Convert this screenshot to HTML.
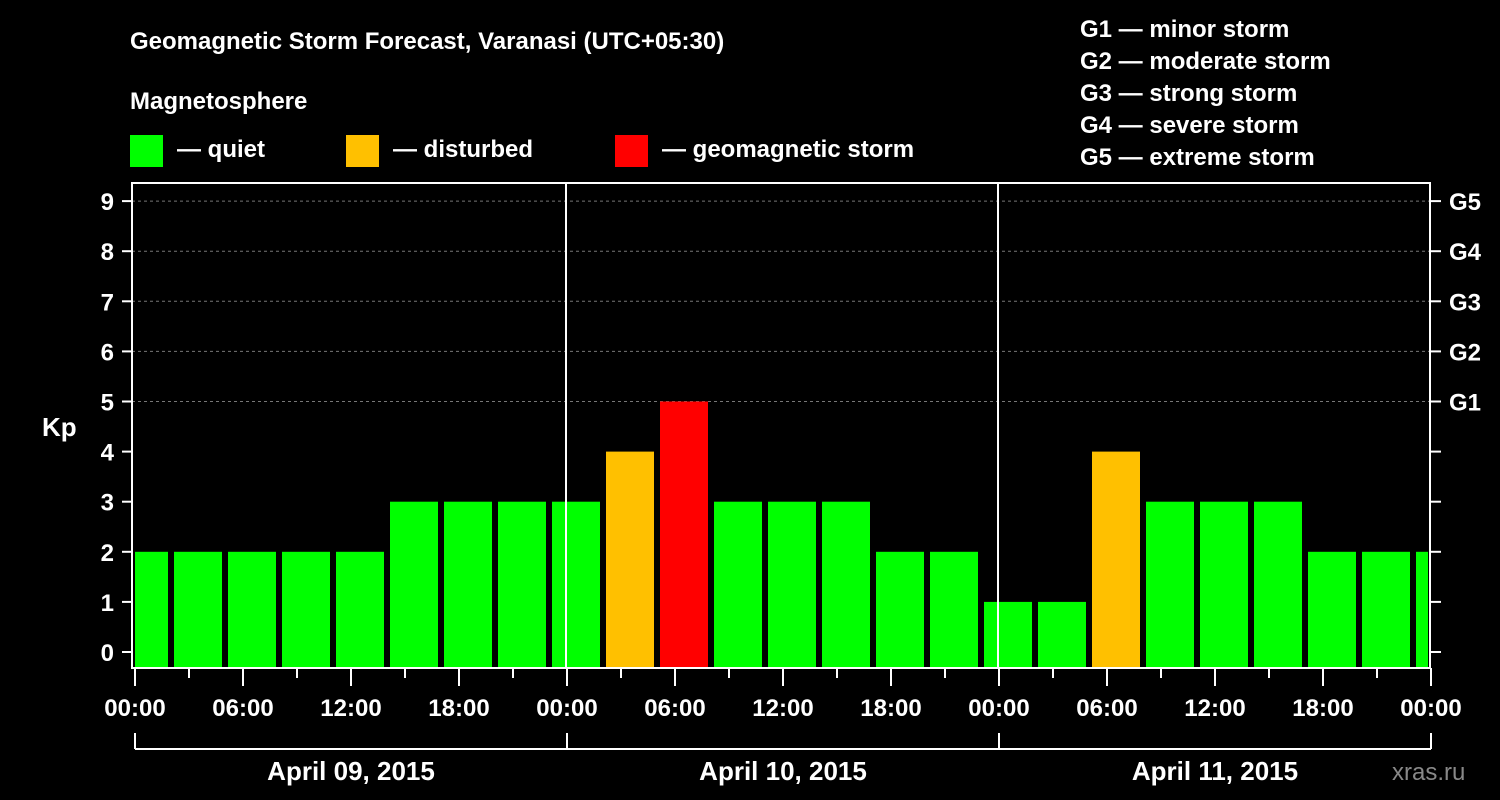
<!DOCTYPE html>
<html><head><meta charset="utf-8"><style>
html,body{margin:0;padding:0;background:#000;}
svg{display:block;font-family:"Liberation Sans",Arial,sans-serif;font-weight:bold;}
</style></head><body>
<svg id="chart" width="1500" height="800" viewBox="0 0 1500 800">
<rect width="1500" height="800" fill="#000"/>
<text x="130" y="49" fill="#fff" font-size="24">Geomagnetic Storm Forecast, Varanasi (UTC+05:30)</text>
<text x="130" y="109" fill="#fff" font-size="24">Magnetosphere</text>
<g><rect x="130" y="135" width="33" height="32" fill="#00ff00"/><text x="177" y="157" fill="#fff" font-size="24">— quiet</text></g>
<g><rect x="346" y="135" width="33" height="32" fill="#ffc000"/><text x="393" y="157" fill="#fff" font-size="24">— disturbed</text></g>
<g><rect x="615" y="135" width="33" height="32" fill="#ff0000"/><text x="662" y="157" fill="#fff" font-size="24">— geomagnetic storm</text></g>
<g fill="#fff" font-size="24">
<text x="1080" y="37">G1 — minor storm</text>
<text x="1080" y="69">G2 — moderate storm</text>
<text x="1080" y="101">G3 — strong storm</text>
<text x="1080" y="133">G4 — severe storm</text>
<text x="1080" y="165">G5 — extreme storm</text>
</g>
<text x="42" y="436" fill="#fff" font-size="26">Kp</text>
<text x="1392" y="780" fill="#888" font-size="24" font-weight="normal">xras.ru</text>
<g id="plot"></g>
</svg>
<script>
const kpValues = [2,2,2,2,2,3,3,3,3,4,5,3,3,3,2,2,1,1,4,3,3,3,2,2,2];
const yTicks = [0,1,2,3,4,5,6,7,8,9];
const gLabels = ["G1","G2","G3","G4","G5"];
const xTickLabels = ["00:00","06:00","12:00","18:00","00:00","06:00","12:00","18:00","00:00","06:00","12:00","18:00","00:00"];
const dayLabels = ["April 09, 2015","April 10, 2015","April 11, 2015"];

const NS="http://www.w3.org/2000/svg";
const plot=document.getElementById('plot');
const X0=132, X1=1430, T0=183, B=668;
const pxH=(1431-135)/72;
const xs=h=>135+h*pxH;
const ys=v=>652-v*50.1;
function mk(tag,attrs,parent){const e=document.createElementNS(NS,tag);for(const k in attrs)e.setAttribute(k,attrs[k]);(parent||plot).appendChild(e);return e;}

// grid dashed for levels >=5
yTicks.forEach(v=>{ if(v>=5){
 const l=mk('line',{x1:X0,x2:X1,y1:ys(v),y2:ys(v),stroke:'#777','stroke-dasharray':'3,3','stroke-width':1});
 
 
}});
// bars
kpValues.forEach((v,i)=>{
 let a=xs(i*3-1)+3, b=xs(i*3+2)-3;
 a=Math.max(a,X0+3); b=Math.min(b,X1-2);
 const col=v>=5?'#ff0000':(v>=4?'#ffc000':'#00ff00');
 const r=mk('rect',{x:a,y:ys(v),width:b-a,height:B-ys(v),fill:col});
 
 
});
// day separators
[24,48].forEach(h=>{
 const l=mk('line',{x1:xs(h)-1,x2:xs(h)-1,y1:T0,y2:B,stroke:'#fff','stroke-width':2});
 
 
});
// frame
const f=mk('rect',{x:X0,y:T0,width:X1-X0,height:B-T0,fill:'none',stroke:'#fff','stroke-width':2});


// y ticks
yTicks.forEach(v=>{
 mk('line',{x1:122,x2:X0,y1:ys(v),y2:ys(v),stroke:'#fff','stroke-width':2});
 mk('line',{x1:X1,x2:1441,y1:ys(v),y2:ys(v),stroke:'#fff','stroke-width':2});
 const t=mk('text',{x:114,y:ys(v)+9,fill:'#fff','font-size':24,'text-anchor':'end'});
 t.textContent=v;
 
 
});
gLabels.forEach((g,i)=>{
 const t=mk('text',{x:1449,y:ys(5+i)+9,fill:'#fff','font-size':24});
 t.textContent=g;
 
 
});
// x ticks
for(let h=0;h<=72;h+=3){
 const major=h%6===0;
 mk('line',{x1:xs(h),x2:xs(h),y1:B,y2:major?686:678,stroke:'#fff','stroke-width':2});
}
xTickLabels.forEach((s,i)=>{
 const t=mk('text',{x:xs(i*6),y:716,fill:'#fff','font-size':24,'text-anchor':'middle'});
 t.textContent=s;
 
 
});
// day brackets
mk('line',{x1:xs(0),x2:xs(72),y1:749,y2:749,stroke:'#fff','stroke-width':2});
[0,24,48,72].forEach(h=>mk('line',{x1:xs(h),x2:xs(h),y1:733,y2:749,stroke:'#fff','stroke-width':2}));
dayLabels.forEach((s,i)=>{
 const t=mk('text',{x:xs(i*24+12),y:780,fill:'#fff','font-size':26,'text-anchor':'middle'});
 t.textContent=s;
 
 
});
</script>
</body></html>
